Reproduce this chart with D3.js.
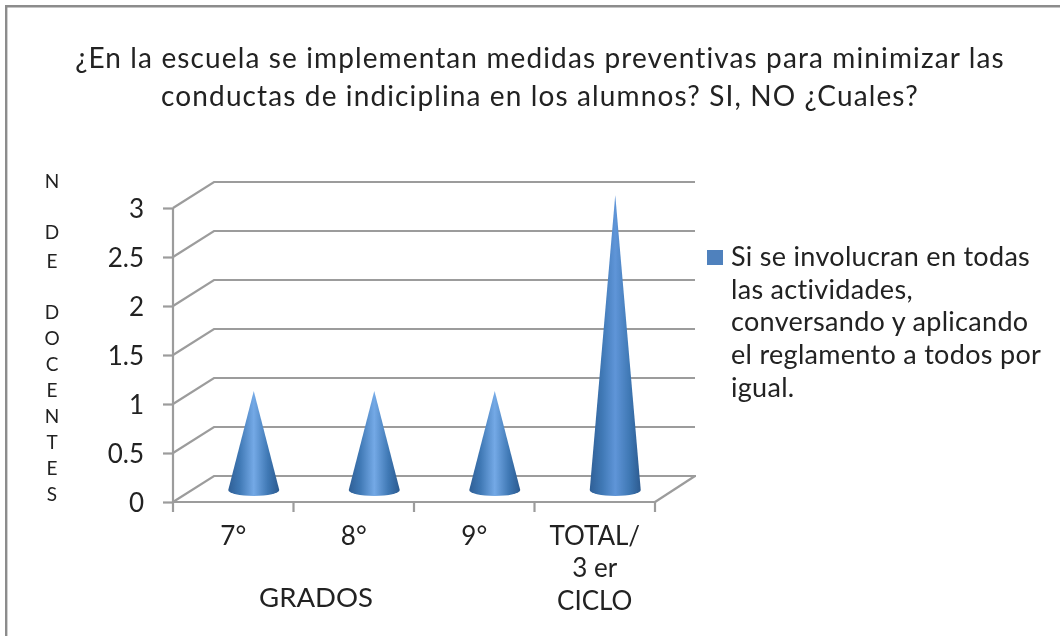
<!DOCTYPE html>
<html><head><meta charset="utf-8">
<script src="https://cdnjs.cloudflare.com/ajax/libs/d3/7.8.5/d3.min.js"></script>
<style>html,body{margin:0;padding:0;background:#fff}svg{display:block;filter:blur(0.45px)}text{font-family:Lato,"Open Sans",sans-serif;fill:#222}</style>
</head><body><svg id="c" width="1060" height="636"></svg>
<script>
const categories = ["7°","8°","9°","TOTAL/"];
const categoryExtraLines = [[],[],[],["3 er","CICLO"]];
const values = [1,1,1,3];
const yTicks = [0,0.5,1,1.5,2,2.5,3];
const titleLines = ["¿En la escuela se implementan medidas preventivas para minimizar las","conductas de indiciplina en los alumnos? SI, NO ¿Cuales?"];
const legendLines = ["Si se involucran en todas","las actividades,","conversando y aplicando","el reglamento a todos por","igual."];
const yAxisTitle = [["N",181],["D",232],["E",261],["D",312],["O",338],["C",364],["E",390],["N",416],["T",442],["E",468],["S",494]];
const xAxisTitle = "GRADOS";

const svg = d3.select("#c");
const defs = svg.append("defs");
const grad = defs.append("linearGradient").attr("id","cone");
[[0,"#2f5f96"],[0.22,"#3f78b4"],[0.5,"#74a9e6"],[0.78,"#3f78b4"],[1,"#2c5a8f"]].forEach(([o,c])=>grad.append("stop").attr("offset",o).attr("stop-color",c));
const grad2 = defs.append("linearGradient").attr("id","cone2");
[[0,"#2f5f96"],[0.25,"#4079b6"],[0.5,"#5f95d8"],[0.78,"#3f78b4"],[1,"#2c5a8f"]].forEach(([o,c])=>grad2.append("stop").attr("offset",o).attr("stop-color",c));

const gray="#9c9c9c";
svg.append("path").attr("d","M6.2,636V6.2H1060").attr("fill","none").attr("stroke","#8c8c8c").attr("stroke-width",2.4);

const x = d3.scaleBand().domain(categories).range([173,655]);
const y = d3.scaleLinear().domain([0,3]).range([502,208]);
const dx=41, dy=-26;

const grid = svg.append("g").attr("fill","none").attr("stroke",gray).attr("stroke-width",2.2);
yTicks.forEach(t=>{
  grid.append("path").attr("d",`M${x.range()[0]},${y(t)}L${x.range()[0]+dx},${y(t)+dy}H${x.range()[1]+dx-(t===0?0:1)}`);
});
grid.append("path").attr("d",`M${x.range()[1]},${y(0)}L${x.range()[1]+dx-1},${y(0)+dy}`);

const axisY = d3.axisLeft(y).tickValues(yTicks).tickSize(10).tickPadding(19).tickFormat(d=>d);
const gy = svg.append("g").attr("transform",`translate(${x.range()[0]},0)`).call(axisY);
gy.selectAll("path,line").attr("stroke",gray).attr("stroke-width",2.2);
gy.select("path").attr("d",`M0,${y(3)}V${y(0)}`);
gy.selectAll("text").attr("font-size",26).attr("font-family","Lato").attr("fill","#222").attr("dy","0.36em");

const axisX = d3.axisBottom(x).tickSize(0).tickFormat("");
const gx = svg.append("g").attr("transform",`translate(0,${y(0)})`).call(axisX);
gx.select("path").attr("d",`M${x.range()[0]},0H${x.range()[1]}`).attr("stroke",gray).attr("stroke-width",2.2);
const edges = categories.map(c=>x(c)).concat(x.range()[1]);
gx.selectAll("line.e").data(edges).join("line").attr("class","e").attr("x1",d=>d).attr("x2",d=>d).attr("y1",0).attr("y2",10).attr("stroke",gray).attr("stroke-width",2.2);

const rx=25.5, ry=6;
const midY = v => y(v)+dy/2;
svg.append("g").selectAll("path").data(categories).join("path")
 .attr("d",(c,i)=>{
   const cx=x(c)+x.bandwidth()/2+dx/2;
   const by=midY(0)+1, ty=midY(values[i]);
   return `M${cx},${ty}L${cx+rx},${by}A${rx},${ry} 0 0 1 ${cx-rx},${by}Z`;
 })
 .attr("fill",(c,i)=>values[i]>1?"url(#cone2)":"url(#cone)");

const lab = svg.append("g").attr("font-size",26).attr("text-anchor","middle");
categories.forEach((c,i)=>{
  const cx=x(c)+x.bandwidth()/2;
  lab.append("text").attr("x",cx).attr("y",545).text(c);
  categoryExtraLines[i].forEach((l,j)=>lab.append("text").attr("x",cx).attr("y",577+j*33).text(l));
});
svg.append("text").attr("x",316).attr("y",607).attr("text-anchor","middle").attr("font-size",27.5).text(xAxisTitle);

svg.append("g").attr("font-size",19).attr("text-anchor","middle").selectAll("text").data(yAxisTitle).join("text")
 .attr("x",52).attr("y",d=>d[1]+6.5).text(d=>d[0]);

svg.append("g").attr("font-size",28).attr("letter-spacing",1.12).attr("text-anchor","middle").selectAll("text").data(titleLines).join("text")
 .attr("x",540).attr("y",(d,i)=>68+i*38).text(d=>d);

svg.append("rect").attr("x",707).attr("y",250).attr("width",16).attr("height",15).attr("fill","#4f81bd");
svg.append("g").attr("font-size",27).attr("letter-spacing",0.3).selectAll("text").data(legendLines).join("text")
 .attr("x",731).attr("y",(d,i)=>266+i*32.7).text(d=>d);
</script></body></html>
